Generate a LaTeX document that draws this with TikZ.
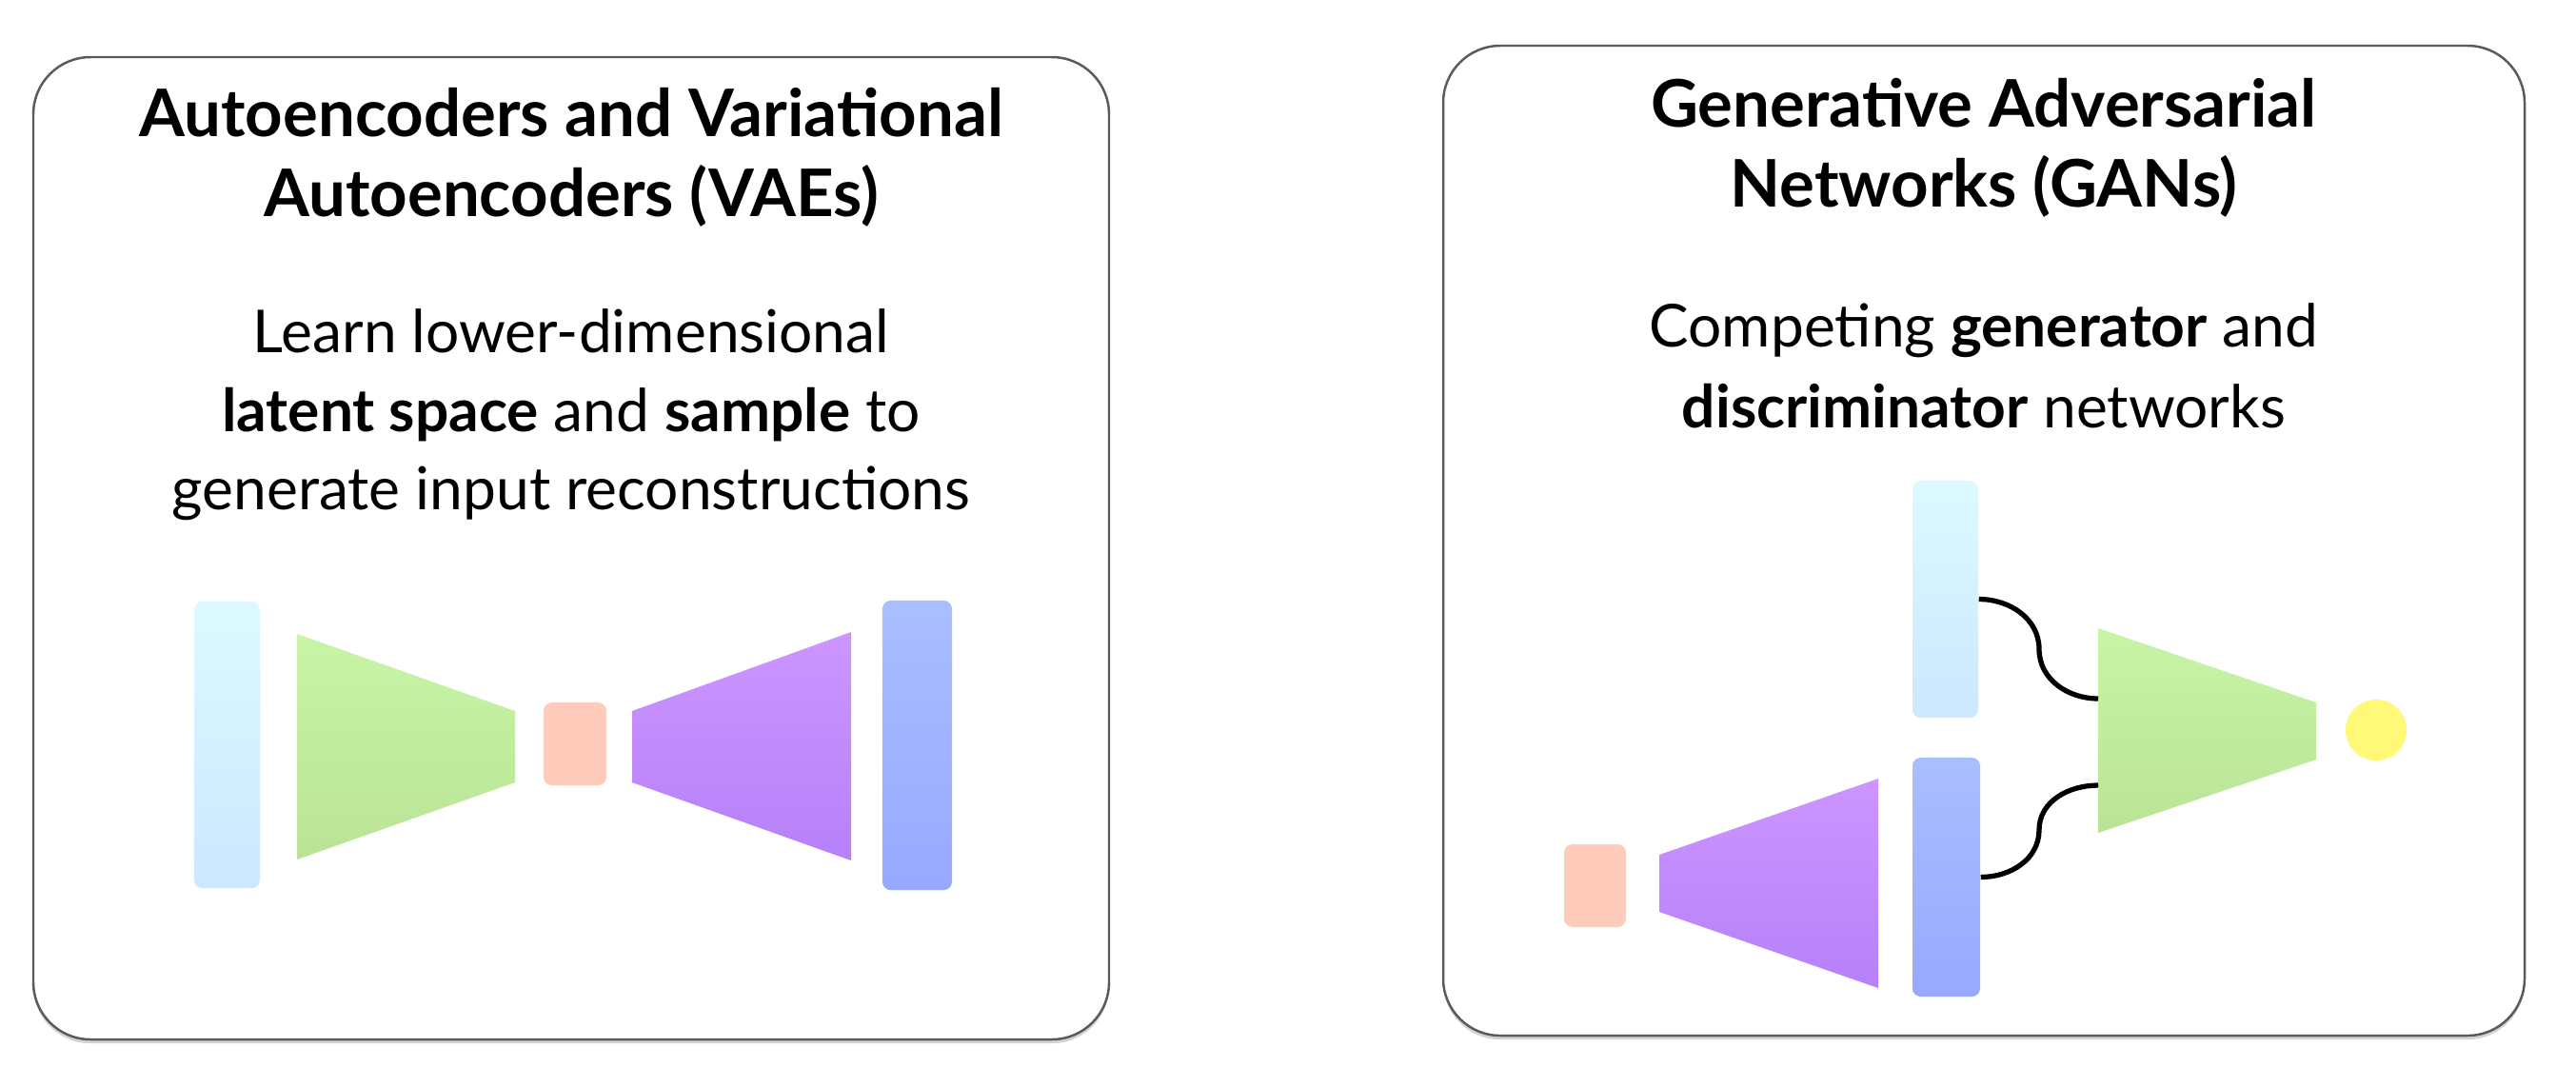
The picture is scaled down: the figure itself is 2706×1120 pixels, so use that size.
\documentclass[tikz,border=0pt]{standalone}
\usepackage{fontspec}
\setmainfont{Lato}
\usetikzlibrary{shadows}

\definecolor{panelgray}{HTML}{5A5A5A}
\definecolor{cyantop}{HTML}{DCF9FF}
\definecolor{cyanbot}{HTML}{CDE7FF}
\definecolor{greentop}{HTML}{C7F5A5}
\definecolor{greenbot}{HTML}{BBE397}
\definecolor{salmon}{HTML}{FFCCBC}
\definecolor{purptop}{HTML}{CC95FF}
\definecolor{purpbot}{HTML}{B681F9}
\definecolor{bluetop}{HTML}{A8BFFF}
\definecolor{bluebot}{HTML}{97A8FF}
\definecolor{sunyellow}{HTML}{FFF977}

\begin{document}
\begin{tikzpicture}[x=0.01cm,y=-0.01cm,
    panel/.style={draw=panelgray,line width=0.7pt,rounded corners=0.6cm,fill=white,
      drop shadow={shadow xshift=0pt,shadow yshift=-1.2pt,opacity=0.35}},
    bar/.style={rounded corners=2.5pt,inner sep=0pt,top color=#1top,bottom color=#1bot},
    latent/.style={rounded corners=2.5pt,inner sep=0pt,fill=salmon,
      minimum width=0.66cm,minimum height=0.87cm},
    title/.style={font=\bfseries\fontsize{19.6}{23}\selectfont,anchor=base},
    body/.style={font=\fontsize{17.7}{21}\selectfont,anchor=base},
    link/.style={line width=1.5pt,black}]
  \useasboundingbox (0,0) rectangle (2706,1120);

  % the two panels
  \draw[panel] (35,60) rectangle (1165,1092);
  \draw[panel] (1516,48) rectangle (2652,1088);

  % texts of the left panel
  \node[title] (vae1) at (600,143) {Autoencoders and Variational};
  \node[title] (vae2) at (600,227) {Autoencoders (VAEs)};
  \node[body] (vae3) at (600,370) {Learn lower-dimensional};
  \node[body] (vae4) at (600,453) {\textbf{latent space} and \textbf{sample} to};
  \node[body] (vae5) at (600,535) {generate input reconstructions};

  % texts of the right panel
  \node[title] (gan1) at (2084,133) {Generative Adversarial};
  \node[title] (gan2) at (2084,217) {Networks (GANs)};
  \node[body] (gan3) at (2084,364) {Competing \textbf{generator} and};
  \node[body] (gan4) at (2084,449) {\textbf{discriminator} networks};

  % autoencoder
  \node[bar=cyan,minimum width=0.69cm,minimum height=3.01cm] (xin) at (238.5,782.5) {};
  \shade[top color=greentop,bottom color=greenbot]
    (312,666) -- (541,747) -- (541,822) -- (312,903) -- cycle;
  \node[latent] (z) at (604,781.5) {};
  \shade[top color=purptop,bottom color=purpbot]
    (664,747) -- (894,664) -- (894,904) -- (664,822) -- cycle;
  \node[bar=blue,minimum width=0.73cm,minimum height=3.04cm] (xout) at (963.5,783) {};

  % GAN
  \node[latent,minimum width=0.65cm] (noise) at (1675.5,930.5) {};
  \shade[top color=purptop,bottom color=purpbot]
    (1743,898) -- (1973,818) -- (1973,1038) -- (1743,958) -- cycle;
  \node[bar=cyan,minimum width=0.69cm,minimum height=2.49cm] (real) at (2043.5,629.5) {};
  \node[bar=blue,minimum width=0.71cm,minimum height=2.51cm] (fake) at (2044.5,921.5) {};
  \shade[top color=greentop,bottom color=greenbot]
    (2204,660) -- (2433,738) -- (2433,798) -- (2204,875) -- cycle;
  \node[circle,fill=sunyellow,inner sep=0pt,minimum size=0.64cm] (out) at (2496,767) {};

  \coordinate (in1) at (2204,734);
  \coordinate (in2) at (2204,825);
  \coordinate (m1) at (2142,682);
  \coordinate (m2) at (2142,872);
  \draw[link] (real.east) to[out=0,in=90] (m1) to[out=-90,in=180] (in1);
  \draw[link] (fake.east) to[out=0,in=-90] (m2) to[out=90,in=180] (in2);
\end{tikzpicture}
\end{document}
